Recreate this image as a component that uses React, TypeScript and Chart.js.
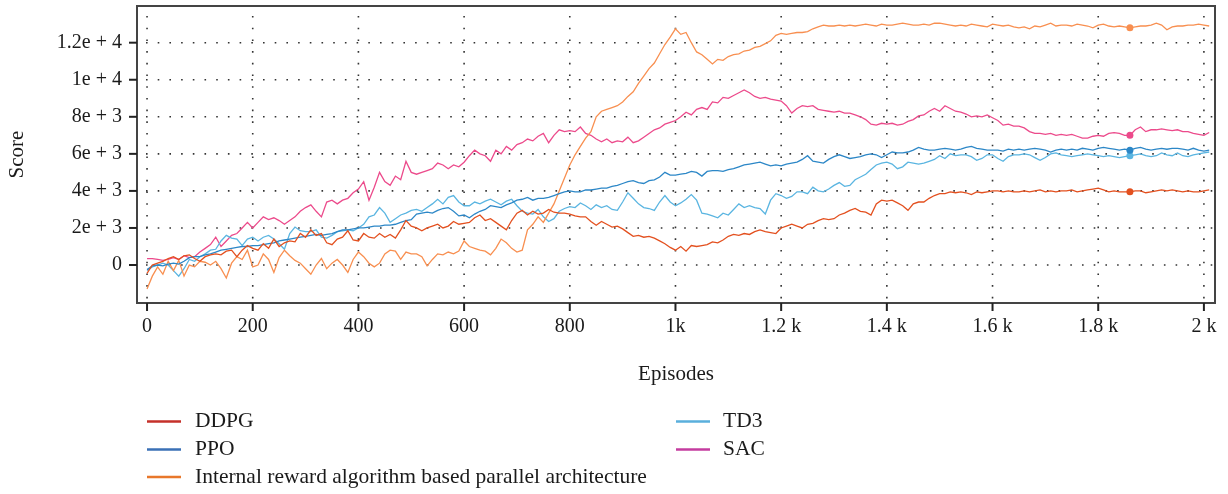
import React, { useEffect, useRef } from 'react';
import { Chart, registerables } from 'chart.js';

Chart.register(...registerables);

// Episodes sampled every 10 (0 .. 2010)
const EPISODES: number[] = Array.from({ length: 202 }, (_, i) => i * 10);

// Scores in thousands (one row = 100 episodes)
const DDPG = [
  -0.45, 0.0, 0.1, 0.2, 0.35, 0.45, 0.3, 0.5, 0.55, 0.35,
  0.2, 0.45, 0.55, 0.6, 0.55, 0.75, 0.8, 0.45, 0.8, 1.05,
  0.9, 0.8, 1.15, 0.9, 1.4, 1.0, 1.2, 1.3, 1.25, 1.7,
  1.5, 1.9, 1.6, 1.7, 1.2, 1.1, 1.4, 1.5, 1.85, 1.35,
  1.3, 1.7, 1.5, 1.45, 1.7, 1.5, 1.65, 1.45, 1.9, 2.4,
  2.1, 2.0, 1.85, 2.0, 2.1, 2.2, 2.0, 2.1, 2.35, 2.2,
  2.25, 2.3, 2.55, 2.7, 2.4, 2.5, 2.3, 2.1, 1.9, 2.4,
  2.8, 2.95, 2.7, 2.9, 2.75, 2.8, 3.0, 2.85, 2.8, 2.8,
  2.75, 2.65, 2.6, 2.6, 2.35, 2.15, 2.35, 2.2, 2.05, 2.1,
  1.95, 1.75, 1.55, 1.6, 1.5, 1.55, 1.45, 1.3, 1.15, 0.95,
  0.8, 1.0, 0.75, 1.05, 1.0, 1.05, 1.1, 1.25, 1.2, 1.35,
  1.55, 1.65, 1.6, 1.7, 1.65, 1.8, 1.9, 1.8, 1.75, 1.7,
  2.0, 2.1, 2.2, 2.1, 2.0, 2.2, 2.25, 2.4, 2.5, 2.45,
  2.5, 2.7, 2.8, 2.95, 3.05, 2.9, 2.85, 2.7, 3.3, 3.5,
  3.45, 3.5, 3.35, 3.2, 2.95, 3.3, 3.4, 3.4, 3.6, 3.75,
  3.85, 3.85, 3.95, 3.9, 3.95, 3.9, 3.8, 3.95, 3.9, 3.95,
  4.0, 4.0, 3.95, 4.0, 3.95, 3.95, 4.0, 3.95, 4.0, 4.05,
  3.95, 4.0, 3.95, 4.0, 4.0, 4.05, 3.95, 4.0, 4.05, 4.1,
  4.15, 4.05, 3.95, 4.0, 3.95, 3.95, 3.95, 4.0, 4.0, 3.9,
  3.95, 4.0, 4.05, 4.0, 4.05, 4.0, 3.95, 4.0, 3.95, 3.95,
  4.0, 4.05,
];

const PPO = [
  -0.25, -0.05, 0.0, -0.05, 0.05, 0.1, 0.05, 0.2, 0.4, 0.45,
  0.45, 0.55, 0.6, 0.7, 0.8, 0.85, 0.9, 0.95, 1.0, 1.0,
  1.05, 1.05, 1.1, 1.15, 1.2, 1.3, 1.35, 1.4, 1.45, 1.5,
  1.55, 1.6, 1.65, 1.6, 1.65, 1.7, 1.8, 1.9, 1.9, 1.95,
  2.0, 2.0, 2.05, 2.1, 2.1, 2.15, 2.15, 2.2, 2.3, 2.4,
  2.45, 2.75, 2.8, 2.85, 2.8, 2.95, 3.05, 3.1, 2.9, 2.65,
  2.7, 2.55, 2.75, 2.9, 3.0, 3.2, 3.15, 3.1, 3.25, 3.35,
  3.5, 3.55, 3.65, 3.5, 3.6, 3.6, 3.65, 3.75, 3.85, 3.95,
  4.0, 3.95, 3.95, 4.05, 4.05, 4.1, 4.15, 4.15, 4.25, 4.3,
  4.4, 4.5, 4.55, 4.45, 4.4, 4.55, 4.6, 4.75, 5.0, 4.85,
  4.85, 4.9, 4.95, 5.05, 5.0, 4.8, 5.05, 5.1, 5.1, 5.05,
  5.15, 5.2, 5.3, 5.4, 5.45, 5.5, 5.55, 5.45, 5.35, 5.4,
  5.35, 5.45, 5.5, 5.55, 5.7, 5.9, 5.6, 5.55, 5.5, 5.7,
  5.85, 5.95, 5.85, 5.75, 5.8, 5.85, 5.95, 6.0, 5.95, 5.8,
  5.95, 6.1, 6.05, 6.05, 6.1, 6.2, 6.35, 6.25, 6.2, 6.2,
  6.25, 6.3, 6.25, 6.2, 6.25, 6.35, 6.4, 6.3, 6.25, 6.2,
  6.2, 6.2, 6.15, 6.25, 6.2, 6.25, 6.2, 6.25, 6.3, 6.25,
  6.2, 6.1, 6.2, 6.25, 6.2, 6.25, 6.2, 6.3, 6.25, 6.2,
  6.3, 6.35, 6.3, 6.25, 6.2, 6.25, 6.2, 6.3, 6.35, 6.25,
  6.2, 6.25, 6.3, 6.25, 6.3, 6.3, 6.25, 6.2, 6.3, 6.2,
  6.15, 6.2,
];

const INTERNAL = [
  -1.3, -0.6, -0.1, -0.5, 0.2, -0.3, 0.25, -0.6, 0.0, -0.1,
  0.2, 0.15, 0.0, 0.2, -0.2, -0.7, 0.1, 0.45, 0.3, 0.8,
  -0.1, 0.0, 0.6, 0.3, -0.4, 0.4, 0.8, 0.5, 0.25, 0.1,
  -0.2, -0.5, 0.0, 0.35, -0.2, 0.1, 0.3, 0.0, -0.4, 0.3,
  0.7, 0.45, 0.1, -0.1, 0.1, 0.6, 0.8, 0.75, 0.3, 0.7,
  0.6, 0.6, 0.45, -0.05, 0.3, 0.6, 0.55, 0.7, 0.6, 0.75,
  1.3, 1.0, 0.9, 0.8, 0.75, 0.55, 0.9, 1.4, 1.2, 0.9,
  0.7, 0.8, 1.9, 2.2, 2.6, 2.3, 2.8, 3.3, 4.0, 4.7,
  5.4, 5.95, 6.4, 6.85, 7.2, 8.0, 8.3, 8.4, 8.5, 8.6,
  8.8, 9.1, 9.35, 9.8, 10.2, 10.6, 10.9, 11.4, 11.9, 12.3,
  12.75, 12.45, 12.55, 12.0, 11.5, 11.35, 11.1, 10.85, 11.1, 11.05,
  11.25, 11.35, 11.4, 11.55, 11.6, 11.75, 11.8, 11.95, 12.1, 12.4,
  12.5, 12.45, 12.5, 12.55, 12.55, 12.6, 12.75, 12.85, 12.95, 12.9,
  12.9, 12.95, 12.9, 12.95, 12.9, 12.95, 13.0, 12.95, 12.9, 13.0,
  12.95, 12.95, 13.0, 13.05, 13.0, 12.95, 12.95, 13.0, 12.95, 13.05,
  13.05, 13.0, 12.95, 12.9, 12.95, 12.9, 13.0, 12.95, 12.9, 12.85,
  13.0, 12.95, 12.9, 12.95, 12.85, 12.8, 12.85, 12.75, 12.9, 12.85,
  12.95, 13.05, 12.9, 12.95, 12.95, 12.9, 13.0, 12.95, 12.9, 12.8,
  12.95, 13.0, 12.9, 12.85, 12.9, 12.85, 12.8, 12.85, 12.9, 12.9,
  12.95, 13.05, 12.95, 12.7, 12.85, 12.9, 12.9, 12.95, 12.95, 13.0,
  12.95, 12.9,
];

const TD3 = [
  -0.3, -0.1, 0.0, 0.1, 0.0, -0.3, -0.6, -0.2, 0.3, 0.2,
  0.45, 0.6, 0.8, 0.85, 1.3, 1.6, 1.45, 1.4, 1.05, 1.4,
  1.5, 1.3, 1.5, 1.6, 1.4, 1.15, 0.85, 1.7, 2.05, 1.85,
  1.8, 1.8, 1.9, 1.5, 1.45, 1.6, 1.8, 1.85, 1.9, 1.85,
  2.0, 2.2, 2.6, 2.7, 3.1, 2.8, 2.3, 2.5, 2.7, 2.8,
  2.95, 3.0, 2.9, 3.1, 3.3, 3.55, 3.3, 3.65, 3.75, 3.4,
  3.2, 3.2, 3.4, 3.3, 3.45, 3.55, 3.4, 3.25, 3.45, 3.55,
  3.2, 2.9, 2.8, 2.75, 3.0, 2.6, 2.35, 2.5, 2.9, 3.05,
  3.15, 3.1, 3.35, 3.2, 3.0, 3.25, 3.1, 3.2, 3.0, 2.95,
  3.4, 3.9, 3.6, 3.3, 3.1, 3.05, 2.95, 3.4, 3.75, 3.4,
  3.2, 3.35, 3.55, 3.8, 3.5, 2.8, 2.75, 2.65, 2.55, 2.8,
  2.7, 3.0, 3.3, 3.1, 3.2, 3.1, 3.05, 2.75, 3.5, 3.85,
  3.75, 3.6, 3.7, 3.95, 3.95, 3.85, 4.2, 4.0, 3.95, 4.1,
  4.3, 4.45, 4.25, 4.3, 4.6, 4.75, 4.9, 5.15, 5.4, 5.5,
  5.55, 5.45, 5.2, 5.3, 5.55, 5.5, 5.45, 5.5, 5.6, 5.7,
  5.9, 5.75, 6.0, 5.9, 5.95, 5.95, 5.85, 5.65, 5.75, 5.95,
  5.95, 5.75, 5.6, 5.85, 5.95, 5.95, 6.0, 5.95, 5.8, 5.65,
  5.8, 6.0, 6.05, 5.95, 5.9, 5.85, 5.9, 5.95, 6.0, 5.95,
  5.9, 5.85, 5.9, 5.85, 5.8, 5.85, 5.9, 5.95, 6.0, 5.9,
  5.85, 5.9, 6.05, 5.95, 5.9, 6.05, 5.9, 5.85, 5.95, 6.0,
  6.05, 6.1,
];

const SAC = [
  0.35, 0.35, 0.3, 0.25, 0.3, 0.4, 0.3, 0.5, 0.4, 0.45,
  0.7, 0.9, 1.1, 1.5, 1.0, 1.3, 1.6, 1.7, 2.0, 2.3,
  2.0, 2.3, 2.6, 2.45, 2.55, 2.4, 2.2, 2.4, 2.6, 2.9,
  3.1, 3.25, 2.9, 2.6, 3.4, 3.5, 3.3, 3.5, 3.6, 3.9,
  4.1, 4.5, 3.5, 4.2, 5.0, 4.5, 4.3, 4.8, 4.6, 5.6,
  5.0, 4.9, 5.0, 5.1, 5.2, 5.5, 5.4, 5.2, 5.4, 5.3,
  5.55, 5.9, 6.2, 6.0, 5.9, 5.6, 6.2, 6.0, 6.4, 6.2,
  6.5, 6.6, 6.8, 6.7, 6.95, 7.1, 6.6, 7.0, 7.3, 7.2,
  7.25, 7.2, 7.45, 7.1, 7.0, 6.8, 6.65, 6.8, 6.6, 6.7,
  6.65, 6.9, 6.6, 6.7, 6.9, 7.1, 7.3, 7.4, 7.6, 7.7,
  7.8, 8.0, 8.25, 8.1, 8.4, 8.5, 8.4, 8.8, 8.75, 9.05,
  9.0, 9.15, 9.3, 9.45, 9.3, 9.1, 9.0, 9.05, 8.95, 8.9,
  8.85, 8.6, 8.2, 8.45, 8.6, 8.55, 8.6, 8.4, 8.35, 8.3,
  8.25, 8.3, 8.2, 8.2, 8.1, 8.0, 7.85, 7.6, 7.55, 7.65,
  7.6, 7.65, 7.55, 7.6, 7.75, 7.85, 8.05, 8.1, 8.3, 8.45,
  8.3, 8.6, 8.45, 8.3, 8.25, 8.15, 8.0, 8.05, 8.0, 8.1,
  7.95, 7.8, 7.55, 7.6, 7.5, 7.5, 7.4, 7.2, 7.1, 7.1,
  7.05, 7.1, 7.0, 7.05, 7.0, 7.05, 6.95, 6.85, 6.85, 6.95,
  7.0, 6.95, 7.1, 7.15, 7.1, 7.0, 7.0, 7.3, 7.45, 7.2,
  7.3, 7.3, 7.35, 7.3, 7.25, 7.3, 7.2, 7.2, 7.1, 7.05,
  7.0, 7.15,
];

const MARK_EPISODE = 1860;

const X_TICKS = [0, 200, 400, 600, 800, 1000, 1200, 1400, 1600, 1800, 2000];
const X_LABELS = ['0', '200', '400', '600', '800', '1k', '1.2 k', '1.4 k', '1.6 k', '1.8 k', '2 k'];
const Y_TICKS = [0, 2000, 4000, 6000, 8000, 10000, 12000];
const Y_LABELS = ['0', '2e + 3', '4e + 3', '6e + 3', '8e + 3', '1e + 4', '1.2e + 4'];

const X_TITLE = 'Episodes';
const Y_TITLE = 'Score';

const SERIES = [
  { label: 'DDPG', values: DDPG, color: '#e3501f', legendColor: '#c5302a', col: 0, row: 0 },
  { label: 'PPO', values: PPO, color: '#2c87c7', legendColor: '#3a70b6', col: 0, row: 1 },
  { label: 'Internal reward algorithm based parallel architecture', values: INTERNAL, color: '#f88f50', legendColor: '#e8772b', col: 0, row: 2 },
  { label: 'TD3', values: TD3, color: '#5ab5e1', legendColor: '#5aafdc', col: 1, row: 0 },
  { label: 'SAC', values: SAC, color: '#ec4a8b', legendColor: '#c43c9f', col: 1, row: 1 },
];

const FAMILY = "'Liberation Serif', 'DejaVu Serif', serif";
const TEXT = '#1a1a1a';

const decor = {
  id: 'decor',
  beforeDatasetsDraw(chart: any) {
    const { ctx, chartArea: a, scales } = chart;
    const x = scales.x;
    const y = scales.y;
    ctx.save();
    ctx.strokeStyle = '#333';
    ctx.lineWidth = 1.6;
    ctx.setLineDash([1.6, 10.1]);
    for (const v of X_TICKS) {
      const px = x.getPixelForValue(v);
      ctx.beginPath();
      ctx.moveTo(px, a.top + 10);
      ctx.lineTo(px, a.bottom);
      ctx.stroke();
    }
    for (const v of Y_TICKS) {
      const py = y.getPixelForValue(v);
      ctx.beginPath();
      ctx.moveTo(a.left + 9, py);
      ctx.lineTo(a.right, py);
      ctx.stroke();
    }
    ctx.restore();
  },
  afterDraw(chart: any) {
    const { ctx, chartArea: a, scales } = chart;
    const x = scales.x;
    const y = scales.y;
    ctx.save();
    // frame
    ctx.strokeStyle = '#444';
    ctx.lineWidth = 2;
    ctx.strokeRect(a.left, a.top, a.right - a.left, a.bottom - a.top);
    // tick marks
    ctx.strokeStyle = '#222';
    ctx.lineWidth = 2;
    for (const v of X_TICKS) {
      const px = x.getPixelForValue(v);
      ctx.beginPath();
      ctx.moveTo(px, a.bottom);
      ctx.lineTo(px, a.bottom + 8);
      ctx.stroke();
    }
    for (const v of Y_TICKS) {
      const py = y.getPixelForValue(v);
      ctx.beginPath();
      ctx.moveTo(a.left - 8, py);
      ctx.lineTo(a.left, py);
      ctx.stroke();
    }
    // axis titles
    ctx.fillStyle = TEXT;
    ctx.font = `21px ${FAMILY}`;
    ctx.textAlign = 'center';
    ctx.textBaseline = 'middle';
    ctx.fillText(X_TITLE, (a.left + a.right) / 2, 374);
    ctx.save();
    ctx.translate(17.5, (a.top + a.bottom) / 2);
    ctx.rotate(-Math.PI / 2);
    ctx.fillText(Y_TITLE, 0, 0);
    ctx.restore();
    // legend
    const colLine = [147, 676];
    const colText = [195, 723];
    const rowY = [421.5, 449.5, 477];
    ctx.font = `21.5px ${FAMILY}`;
    ctx.textAlign = 'left';
    for (const s of SERIES) {
      const ly = rowY[s.row];
      ctx.strokeStyle = s.legendColor;
      ctx.lineWidth = 2.6;
      ctx.beginPath();
      ctx.moveTo(colLine[s.col], ly);
      ctx.lineTo(colLine[s.col] + 34, ly);
      ctx.stroke();
      ctx.fillStyle = TEXT;
      ctx.fillText(s.label, colText[s.col], ly);
    }
    ctx.restore();
  },
};

export default function App() {
  const ref = useRef<HTMLCanvasElement | null>(null);

  useEffect(() => {
    if (!ref.current) return;
    const chart = new Chart(ref.current, {
      type: 'line',
      data: {
        datasets: SERIES.map((s) => ({
          label: s.label,
          data: EPISODES.map((e, i) => ({ x: e, y: s.values[i] * 1000 })),
          borderColor: s.color,
          backgroundColor: s.color,
          borderWidth: 1.3,
          tension: 0,
          fill: false,
          pointRadius: (c: any) => (c.raw && c.raw.x === MARK_EPISODE ? 3.5 : 0),
          pointHoverRadius: 0,
          pointBorderWidth: 0,
        })),
      },
      options: {
        responsive: false,
        animation: false,
        devicePixelRatio: 1,
        layout: { padding: { top: 6, right: 13, bottom: 0, left: 0 } },
        plugins: { legend: { display: false }, tooltip: { enabled: false } },
        scales: {
          x: {
            type: 'linear',
            min: -19,
            max: 2021,
            grid: { display: false, drawTicks: false },
            border: { display: false },
            afterBuildTicks: (s: any) => {
              s.ticks = X_TICKS.map((v) => ({ value: v }));
            },
            afterFit: (s: any) => {
              s.height = 191;
              s.paddingLeft = 0;
              s.paddingRight = 0;
              s.paddingTop = 0;
              s.paddingBottom = 0;
            },
            ticks: {
              padding: 12,
              autoSkip: false,
              maxRotation: 0,
              color: TEXT,
              font: { family: FAMILY, size: 20 },
              callback: (_v: any, i: number) => X_LABELS[i],
            },
          },
          y: {
            type: 'linear',
            min: -2050,
            max: 13980,
            grid: { display: false, drawTicks: false },
            border: { display: false },
            afterBuildTicks: (s: any) => {
              s.ticks = Y_TICKS.map((v) => ({ value: v }));
            },
            afterFit: (s: any) => {
              s.width = 137;
              s.paddingLeft = 0;
              s.paddingRight = 0;
              s.paddingTop = 0;
              s.paddingBottom = 0;
            },
            ticks: {
              padding: 15,
              color: TEXT,
              font: { family: FAMILY, size: 20 },
              callback: (_v: any, i: number) => Y_LABELS[i],
            },
          },
        },
      },
      plugins: [decor],
    });
    return () => chart.destroy();
  }, []);

  return (
    <div style={{ position: 'absolute', left: 0, top: 0, width: 1228, height: 494, background: '#fff' }}>
      <canvas ref={ref} width={1228} height={494} style={{ display: 'block' }} />
    </div>
  );
}
